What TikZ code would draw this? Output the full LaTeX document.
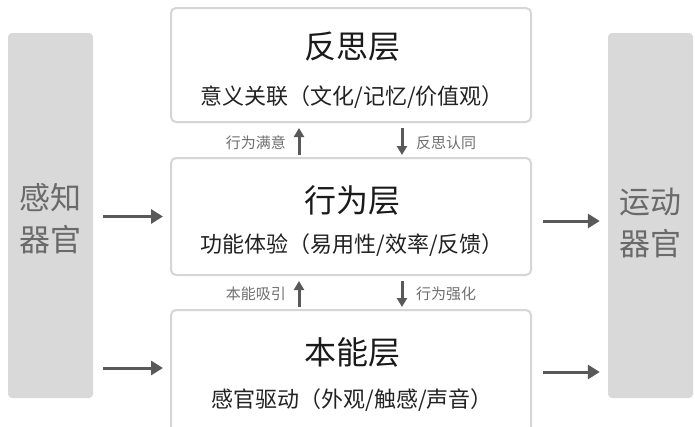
\documentclass[tikz,border=0pt]{standalone}
\usepackage{fontspec}
\setmainfont{Noto Sans CJK SC}
\usetikzlibrary{arrows.meta}
\definecolor{barfill}{HTML}{D9D9D9}
\definecolor{bartext}{HTML}{6A6A6A}
\definecolor{boxline}{HTML}{D6D6D6}
\definecolor{titlecol}{HTML}{1A1A1A}
\definecolor{subcol}{HTML}{222222}
\definecolor{smallcol}{HTML}{707070}
\definecolor{arrcol}{HTML}{595959}
\tikzset{
  bar/.style={fill=barfill, draw=none, rounded corners=4pt, inner sep=0pt},
  bartxt/.style={text=bartext, align=center, font=\fontsize{31}{42}\selectfont, inner sep=0pt},
  layerbox/.style={fill=white, draw=boxline, line width=2pt, rounded corners=5pt, inner sep=0pt, minimum width=360pt},
  title/.style={text=titlecol, font=\fontsize{32}{36}\selectfont, inner sep=0pt},
  subtitle/.style={text=subcol, font=\fontsize{22}{24}\selectfont, inner sep=0pt},
  small/.style={text=smallcol, font=\fontsize{15}{18}\selectfont, inner sep=0pt},
  harrow/.style={draw=arrcol, line width=3pt, -{Triangle[length=12pt,width=14pt]}},
  varrow/.style={draw=arrcol, line width=3pt, -{Triangle[length=9pt,width=10pt]}}
}
\begin{document}
\begin{tikzpicture}[x=1pt,y=-1pt]
\useasboundingbox (0,0) rectangle (695,426);
\fill[white] (0,0) rectangle (695,426);
% side bars
\node[bar, minimum width=85pt, minimum height=365pt] (sense) at (50.5,215.5) {};
\node[bar, minimum width=85pt, minimum height=365pt] (motor) at (650.5,215.5) {};
\node[bartxt] (senselbl) at (50,219) {感知\\器官};
\node[bartxt] (motorlbl) at (650,223) {运动\\器官};
% layer boxes
\node[layerbox, minimum height=114pt] (top) at (351,65) {};
\node[layerbox, minimum height=117pt] (mid) at (351,216.5) {};
\node[layerbox, minimum height=124pt] (bot) at (351,372) {};
% texts
\node[title] (toptitle) at (352,47) {反思层};
\node[subtitle] (topsub) at (352,97) {意义关联（文化/记忆/价值观）};
\node[title] (midtitle) at (352,200) {行为层};
\node[subtitle] (midsub) at (352,245) {功能体验（易用性/效率/反馈）};
\node[title] (bottitle) at (352,352) {本能层};
\node[subtitle] (botsub) at (352,400) {感官驱动（外观/触感/声音）};
% vertical arrows
\coordinate (ux) at (299,0);
\coordinate (dx) at (402,0);
\draw[varrow, shorten <=2pt, shorten >=5pt] (mid.north -| ux) -- (top.south -| ux);
\draw[varrow, shorten <=5pt, shorten >=2pt] (top.south -| dx) -- (mid.north -| dx);
\draw[varrow, shorten <=2pt, shorten >=5pt] (bot.north -| ux) -- (mid.south -| ux);
\draw[varrow, shorten <=5pt, shorten >=2pt] (mid.south -| dx) -- (bot.north -| dx);
\node[small, anchor=east] (l1) at (286,143) {行为满意};
\node[small, anchor=west] (l2) at (416,143) {反思认同};
\node[small, anchor=east] (l3) at (286,294) {本能吸引};
\node[small, anchor=west] (l4) at (416,294) {行为强化};
% horizontal arrows
\draw[harrow, shorten <=10pt, shorten >=7pt] (sense.east |- mid.west) -- (mid.west);
\draw[harrow, shorten <=10pt, shorten >=7pt] ([yshift=4pt]sense.east |- bot.west) -- ([yshift=4pt]bot.west);
\draw[harrow, shorten <=11pt, shorten >=8pt] ([yshift=-4.5pt]mid.east) -- ([yshift=-4.5pt]mid.east -| motor.west);
\draw[harrow, shorten <=11pt, shorten >=8pt] (bot.east) -- (bot.east -| motor.west);
\end{tikzpicture}
\end{document}
